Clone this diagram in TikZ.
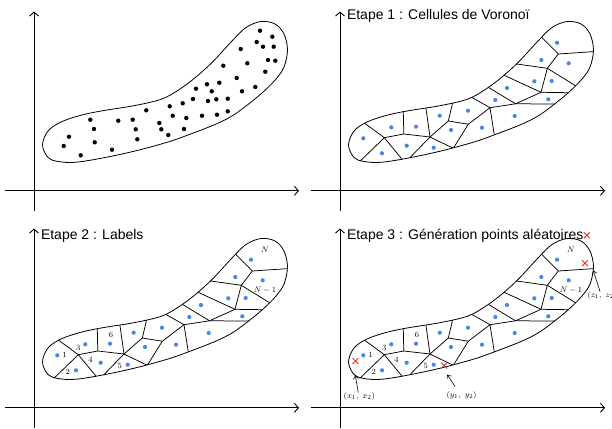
\documentclass[tikz,border=0pt]{standalone}
\usepackage{fontspec}
\newfontfamily\titlefont{Liberation Sans}
\usetikzlibrary{calc,arrows.meta,shapes.misc}
\definecolor{dotblue}{RGB}{74,134,232}
\definecolor{xred}{RGB}{224,52,52}
\tikzset{
 axisline/.style={line width=0.9pt, -{Straight Barb[length=4pt,width=9pt]}},
 blobline/.style={line width=0.8pt},
 cell/.style={line width=0.75pt},
 title/.style={font=\titlefont\fontsize{14}{16}\selectfont, inner sep=0pt, anchor=base west},
 lab/.style={font=\footnotesize, inner sep=0pt},
 rx/.style={cross out, draw=xred, line width=0.9pt, minimum size=5pt, inner sep=0pt},
 annot/.style={line width=0.6pt, -{Straight Barb[length=3pt,width=5pt]}},
}
\def\myblob{plot[smooth cycle,tension=0.55] coordinates {(42.5,145) (48,131) (61,122) (80,115.5) (101,111) (135,105.5) (162,99) (180,89) (196,77) (213,61.5) (232,41) (246,27.5) (261,21.5) (275,24) (284,34) (287.5,50) (284,67) (276,79) (262,93) (246,106) (232,116) (215,124.5) (188,135) (168,142) (135,151) (101,158.3) (75,162.3) (58,161.5) (48,157.5)}}
\newcommand\myaxes{%
 \coordinate (yb) at (34,211); \coordinate (yt) at (34,11.5);
 \coordinate (xl) at (5,190.8); \coordinate (xr) at (299,190.8);
 \draw[axisline] (yb) -- (yt);
 \draw[axisline] (xl) -- (xr);}
\newcommand\bedge[2]{\draw[cell] (#1) -- ($(#2)!-6pt!(#1)$);}
\newcommand\myvoronoi{%
 \coordinate (A) at (78.3,137.7); \coordinate (B) at (97.8,134);
 \coordinate (C) at (124,137); \coordinate (D) at (142.3,121);
 \coordinate (E) at (162.3,124.2); \coordinate (F) at (184,107.7);
 \coordinate (G) at (209.5,103.8); \coordinate (H) at (235,92.3);
 \coordinate (I) at (241.3,68.3); \coordinate (J) at (252.3,54);
 \coordinate (a1) at (60,124.2); \coordinate (a2) at (56.7,158.6);
 \coordinate (a3) at (96.7,160); \coordinate (b1) at (97.3,112.3);
 \coordinate (c1) at (120,108.8); \coordinate (c2) at (103,158.6);
 \coordinate (c3) at (147.3,148.3); \coordinate (d1) at (146.7,102.5);
 \coordinate (f1) at (165.7,97.3); \coordinate (f2) at (188.3,135);
 \coordinate (g1) at (182.3,87.3); \coordinate (g2) at (250,104);
 \coordinate (h1) at (199,75.7); \coordinate (h2) at (263.3,92.7);
 \coordinate (i1) at (210.7,64); \coordinate (i2) at (270,86);
 \coordinate (j1) at (235.7,37.3); \coordinate (j2) at (286.7,51.7);
 \begin{scope}
 \clip \myblob;
 \draw[cell] (A) -- (B) -- (C) -- (D) -- (E) -- (F) -- (G) -- (H) -- (I) -- (J);
 \bedge{A}{a1}\bedge{A}{a2}\bedge{A}{a3}\bedge{B}{b1}
 \bedge{C}{c1}\bedge{C}{c2}\bedge{C}{c3}\bedge{D}{d1}\bedge{E}{c3}
 \bedge{F}{f1}\bedge{F}{f2}\bedge{G}{g1}\bedge{G}{g2}
 \bedge{H}{h1}\bedge{H}{h2}\bedge{I}{i1}\bedge{I}{i2}\bedge{J}{j1}\bedge{J}{j2}
 \end{scope}
 \draw[blobline] \myblob;
 \foreach \x/\y in {251/42.7, 235.3/60, 262.7/63.3, 228.3/81.3, 245.7/81, 201/88, 189.3/100, 242.3/99.3, 208.7/116, 162/110.7, 176/127.7, 145/130, 133.7/115.7, 110/126.7, 85.3/127.3, 100.7/145.7, 127.7/147.7, 57.3/138.3, 76/153.3}
  \fill[dotblue] (\x,\y) circle (2.1pt);}
\newcommand\mylabels{%
 \node[lab] (n1) at (64.6,138.3) {1};
 \node[lab] (n2) at (67.7,155.3) {2};
 \node[lab] (n3) at (78.3,130.6) {3};
 \node[lab] (n4) at (90.4,142.7) {4};
 \node[lab] (n5) at (119.7,149) {5};
 \node[lab] (n6) at (111,118.4) {6};
 \node[lab] (nN) at (265,32.7) {$N$};
 \node[lab] (nN1) at (265,73.3) {$N-1$};}
\begin{document}
\begin{tikzpicture}[x=1pt,y=-1pt]
\useasboundingbox (0,0) rectangle (612,428);
\fill[white] (0,0) rectangle (612,428);
% panel 1
\begin{scope}
 \myaxes
 \draw[blobline] \myblob;
 \foreach \x/\y in {260/30.7, 272.3/36.7, 256.7/42, 263/46.7, 273.7/46.7, 240.7/49, 268/60, 275.3/60.7, 247.3/63.3, 265.3/71.7, 223.3/65.7, 236.7/78, 219.3/82.7, 207/84.3, 196/88.7, 211.7/91.3, 242/91.3, 255.3/87, 193/99, 208/101, 216.3/99.3, 227.7/98.7, 182.7/103.3, 169.7/106.3, 146.3/110.3, 172.7/115.7, 186.3/118, 202/115.7, 217/114.7, 227.7/111.3, 90.3/119.7, 118.3/120.7, 132.7/119.7, 159.3/123, 94/129, 135.7/129.3, 161.3/129.3, 184/129, 69/136.7, 137.3/139.3, 168.3/135, 63.7/146, 94.7/142.3, 112/149.7, 80.7/155.3}
  \fill (\x,\y) circle (2.2pt);
\end{scope}
% panel 2
\begin{scope}[shift={(306,0)}]
 \myaxes
 \myvoronoi
 \node[title] (t1) at (40.8,19.8) {Etape 1 : Cellules de Voronoï};
\end{scope}
% panel 3
\begin{scope}[shift={(0,217)}]
 \myaxes
 \myvoronoi
 \mylabels
 \node[title] (t2) at (40.8,22.5) {Etape 2 : Labels};
\end{scope}
% panel 4
\begin{scope}[shift={(306,217)}]
 \myaxes
 \myvoronoi
 \mylabels
 \node[title] (t3) at (40.8,22.5) {Etape 3 : Génération points aléatoires};
 \node[rx] (xt) at (280.8,18.3) {};
 \node[rx] (xa) at (49.5,144) {};
 \node[rx] (xb) at (138.3,148.5) {};
 \node[rx] (xc) at (279,46.3) {};
 \node[lab] (lx) at (53.3,179.7) {$(x_1,\ x_2)$};
 \node[lab] (ly) at (155.5,178) {$(y_1,\ y_2)$};
 \node[lab,anchor=west] (lz) at (281.5,78) {$(z_1,\ z_2)$};
 \coordinate (hx) at (49.3,158.5);
 \coordinate (ty) at (149,169.5); \coordinate (hy) at (141.3,157.5);
 \coordinate (tz) at (294,74.5); \coordinate (hz) at (287.3,53.5);
 \draw[annot] ([xshift=-1pt]lx.north) -- (hx);
 \draw[annot] (ty) -- (hy);
 \draw[annot] (tz) -- (hz);
\end{scope}
\end{tikzpicture}
\end{document}
